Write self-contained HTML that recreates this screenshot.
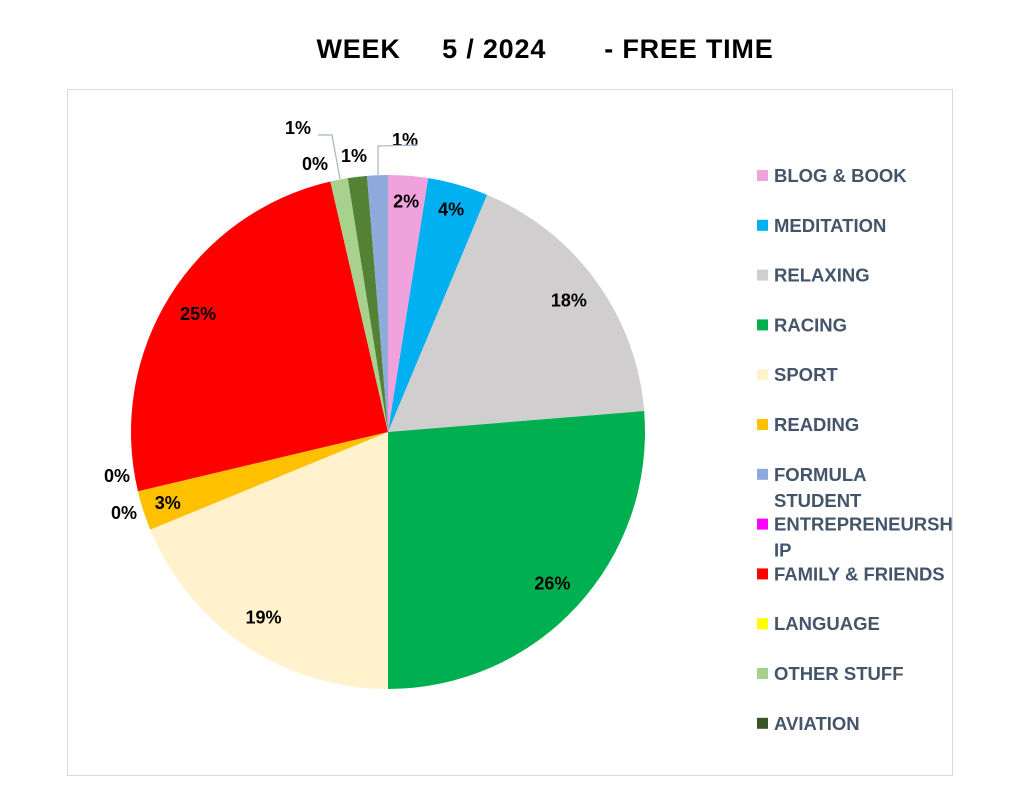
<!DOCTYPE html>
<html><head><meta charset="utf-8"><style>
body{margin:0;background:#fff;}
svg{display:block;font-family:"Liberation Sans",Arial,sans-serif;}
</style></head><body>
<svg id="c" width="1023" height="794">
<text x="545" y="58" text-anchor="middle" font-size="27" font-weight="bold" fill="#000" letter-spacing="0.8" xml:space="preserve">WEEK     5 / 2024       - FREE TIME</text>
<rect x="67.5" y="89.5" width="885" height="686" fill="none" stroke="#d9d9d9"/>
<g id="slices"></g><g id="labels"></g><g id="legend"></g>
</svg>
<script>
const sliceNames=["BLOG & BOOK","MEDITATION","RELAXING","RACING","SPORT","READING","ENTREPRENEURSHIP","LANGUAGE","FAMILY & FRIENDS","OTHER STUFF","AVIATION","FORMULA STUDENT"];
const sliceValues=[2.5,3.8,17.4,26.3,18.8,2.5,0,0,25.1,1.1,1.2,1.3];
const sliceLabels=["2%","4%","18%","26%","19%","3%","0%","0%","25%","0%","1%","1%"];
const sliceColors=["#f0a2dc","#00b0f0","#d0cece","#00b050","#fff2cc","#ffc000","#ff00ff","#ffff00","#ff0000","#a9d18e","#548235","#8eaadb"];
const legendNames=["BLOG & BOOK","MEDITATION","RELAXING","RACING","SPORT","READING","FORMULA|STUDENT","ENTREPRENEURSH|IP","FAMILY & FRIENDS","LANGUAGE","OTHER STUFF","AVIATION"];
const legendColors=["#f0a2dc","#00b0f0","#d0cece","#00b050","#fff2cc","#ffc000","#8eaadb","#ff00ff","#ff0000","#ffff00","#a9d18e","#375623"];
const NS="http://www.w3.org/2000/svg";
const cx=388,cy=432,R=257;
function pt(a,r){return [cx+r*Math.sin(a),cy-r*Math.cos(a)];}
const total=sliceValues.reduce((a,b)=>a+b,0);
const gS=document.getElementById('slices'),gL=document.getElementById('labels'),gG=document.getElementById('legend');
const outside={6:[117,482],7:[124,519],9:[315,170],10:[354,162],11:[405,146]};
let acc=0;
sliceValues.forEach((v,i)=>{
 const a0=acc/total*2*Math.PI; acc+=v; const a1=acc/total*2*Math.PI;
 if(v>0){
  const p0=pt(a0,R),p1=pt(a1,R);
  const p=document.createElementNS(NS,'path');
  p.setAttribute('d',`M${cx},${cy}L${p0[0]},${p0[1]}A${R},${R} 0 ${a1-a0>Math.PI?1:0} 1 ${p1[0]},${p1[1]}Z`);
  p.setAttribute('fill',sliceColors[i]);
  
  
  gS.appendChild(p);
 }
 const am=(a0+a1)/2;
 let x,y;
 if(outside[i]){[x,y]=outside[i];}
 else if(v<5){[x,y]=pt(am,R*0.9);y+=6;}
 else{[x,y]=pt(am,R*0.87);y+=6;}
 const t=document.createElementNS(NS,'text');
 t.setAttribute('x',x);t.setAttribute('y',y);t.setAttribute('text-anchor','middle');
 t.setAttribute('font-size','18');t.setAttribute('font-weight','bold');
 t.textContent=sliceLabels[i];
 
 
 gL.appendChild(t);
});
const t2=document.createElementNS(NS,'text');
t2.setAttribute('x',298);t2.setAttribute('y',134);t2.setAttribute('text-anchor','middle');
t2.setAttribute('font-size','18');t2.setAttribute('font-weight','bold');t2.textContent='1%';


gL.appendChild(t2);
[["M318,135L332,135L340,179"],["M418,145L378,146L378,175"]].forEach(d=>{
 const l=document.createElementNS(NS,'path');
 l.setAttribute('d',d[0]);l.setAttribute('fill','none');l.setAttribute('stroke','#a6b4c8');l.setAttribute('stroke-width','1.2');
 
 
 gL.appendChild(l);
});
legendNames.forEach((n,i)=>{
 const y=175+i*49.8;
 const r=document.createElementNS(NS,'rect');
 r.setAttribute('x',757);r.setAttribute('y',y-5);r.setAttribute('width',11);r.setAttribute('height',11);
 r.setAttribute('fill',legendColors[i]);
 
 
 gG.appendChild(r);
 n.split('|').forEach((s,j)=>{
  const t=document.createElementNS(NS,'text');
  t.setAttribute('x',774);t.setAttribute('y',y+7+j*26);
  t.setAttribute('font-size','18.5');t.setAttribute('font-weight','bold');t.setAttribute('fill','#44546a');
  t.textContent=s;
  
  
  gG.appendChild(t);
 });
});
</script>
</body></html>
